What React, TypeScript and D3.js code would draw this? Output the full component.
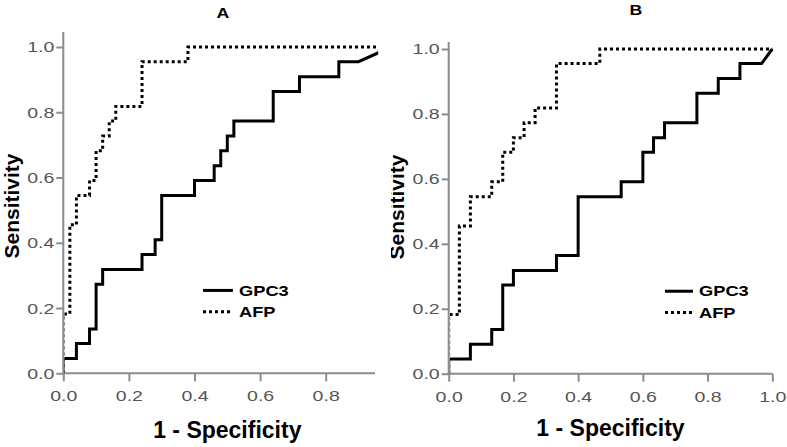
import { useEffect, useRef } from 'react'
import * as d3 from 'd3'

const W = 787, H = 447
const FONT = 'Arial, "Liberation Sans", sans-serif'

// ROC operating points (1 - specificity, sensitivity)
const A_GPC3_FPR = [0, 0, 0.04, 0.04, 0.08, 0.08, 0.10, 0.10, 0.12, 0.12, 0.24, 0.24, 0.28, 0.28, 0.30, 0.30, 0.40, 0.40, 0.46, 0.46, 0.48, 0.48, 0.50, 0.50, 0.52, 0.52, 0.64, 0.64, 0.72, 0.72, 0.84, 0.84, 0.90, 1.0]
const A_GPC3_TPR = [0, 0.045, 0.045, 0.091, 0.091, 0.136, 0.136, 0.273, 0.273, 0.318, 0.318, 0.364, 0.364, 0.409, 0.409, 0.545, 0.545, 0.591, 0.591, 0.636, 0.636, 0.682, 0.682, 0.727, 0.727, 0.773, 0.773, 0.864, 0.864, 0.909, 0.909, 0.955, 0.955, 1.0]
const A_AFP_FPR = [0, 0, 0.02, 0.02, 0.04, 0.04, 0.08, 0.08, 0.10, 0.10, 0.12, 0.12, 0.14, 0.14, 0.16, 0.16, 0.24, 0.24, 0.38, 0.38, 1.0]
const A_AFP_TPR = [0, 0.182, 0.182, 0.455, 0.455, 0.545, 0.545, 0.591, 0.591, 0.682, 0.682, 0.727, 0.727, 0.773, 0.773, 0.818, 0.818, 0.955, 0.955, 1.0, 1.0]

const B_GPC3_FPR = [0, 0, 0.067, 0.067, 0.133, 0.133, 0.167, 0.167, 0.2, 0.2, 0.333, 0.333, 0.4, 0.4, 0.533, 0.533, 0.6, 0.6, 0.633, 0.633, 0.667, 0.667, 0.767, 0.767, 0.833, 0.833, 0.9, 0.9, 0.967, 1.0]
const B_GPC3_TPR = [0, 0.045, 0.045, 0.091, 0.091, 0.136, 0.136, 0.273, 0.273, 0.318, 0.318, 0.364, 0.364, 0.545, 0.545, 0.591, 0.591, 0.682, 0.682, 0.727, 0.727, 0.773, 0.773, 0.864, 0.864, 0.909, 0.909, 0.955, 0.955, 1.0]
const B_AFP_FPR = [0, 0, 0.033, 0.033, 0.067, 0.067, 0.133, 0.133, 0.167, 0.167, 0.2, 0.2, 0.233, 0.233, 0.267, 0.267, 0.333, 0.333, 0.467, 0.467, 1.0]
const B_AFP_TPR = [0, 0.182, 0.182, 0.455, 0.455, 0.545, 0.545, 0.591, 0.591, 0.682, 0.682, 0.727, 0.727, 0.773, 0.773, 0.818, 0.818, 0.955, 0.955, 1.0, 1.0]

const Y_TICKS = [0, 0.2, 0.4, 0.6, 0.8, 1.0]
const A_X_TICKS = [0, 0.2, 0.4, 0.6, 0.8]
const B_X_TICKS = [0, 0.2, 0.4, 0.6, 0.8, 1.0]
const SERIES = ['GPC3', 'AFP']

const zip = (xs: number[], ys: number[]) => xs.map((x, i) => [x, ys[i]] as [number, number])

// layout of each panel (pixels)
const PANELS = [
  { id: 'A', gpc3: zip(A_GPC3_FPR, A_GPC3_TPR), afp: zip(A_AFP_FPR, A_AFP_TPR), xTicks: A_X_TICKS,
    x0: 63.3, x1: 391.3, xEnd: 375, y0: 373.3, y1: 47, yTop: 32, ylabClip: 0,
    titleX: 223, titleY: 18, ylabX: 19, ylabY: 206, xlabY: 438, legX: 203, legLen: 30 },
  { id: 'B', gpc3: zip(B_GPC3_FPR, B_GPC3_TPR), afp: zip(B_AFP_FPR, B_AFP_TPR), xTicks: B_X_TICKS,
    x0: 448.7, x1: 772.3, xEnd: 772.3, y0: 373.7, y1: 49, yTop: 42, ylabClip: 391,
    titleX: 636, titleY: 15, ylabX: 404, ylabY: 207, xlabY: 436, legX: 665, legLen: 28 },
]

// the source figure is stretched horizontally; widen small text to match
const STRETCH = 1.26
function widen(sel: d3.Selection<any, any, any, any>) {
  sel.each(function () {
    const t = this as SVGTextElement
    const w = t.getComputedTextLength()
    t.setAttribute('textLength', String(w * STRETCH))
    t.setAttribute('lengthAdjust', 'spacingAndGlyphs')
  })
}

export default function App() {
  const svgRef = useRef<SVGSVGElement>(null)

  useEffect(() => {
    document.body.style.margin = '0'
    const svg = d3.select(svgRef.current!)
    svg.selectAll('*').remove()
    svg.append('rect').attr('width', W).attr('height', H).attr('fill', '#fff')

    PANELS.forEach(p => {
      const x = d3.scaleLinear().domain([0, 1]).range([p.x0, p.x1])
      const y = d3.scaleLinear().domain([0, 1]).range([p.y0, p.y1])
      const g = svg.append('g')

      // ── title ──
      g.append('text').attr('x', p.titleX).attr('y', p.titleY)
        .attr('text-anchor', 'middle').attr('font-family', FONT)
        .attr('font-weight', 'bold').attr('font-size', 14).attr('fill', '#000')
        .text(p.id)
        .call(widen)

      // ── axes ──
      const AX = '#8c8c8c'
      const yAx = g.append('g').attr('transform', `translate(${p.x0},0)`)
        .call(d3.axisLeft(y).tickValues(Y_TICKS).tickSize(7).tickSizeOuter(0).tickPadding(2)
          .tickFormat(d => d3.format('.1f')(d as number)))
      const xAx = g.append('g').attr('transform', `translate(0,${p.y0})`)
        .call(d3.axisBottom(x).tickValues(p.xTicks).tickSize(8).tickSizeOuter(0).tickPadding(9)
          .tickFormat(d => d3.format('.1f')(d as number)))
      ;[yAx, xAx].forEach(ax => {
        ax.select('.domain').remove()
        ax.selectAll('.tick line').attr('stroke', AX).attr('stroke-width', 2)
        ax.selectAll('.tick text').attr('font-family', FONT).attr('font-size', 15.5).attr('fill', '#555')
          .call(widen)
      })
      g.append('line').attr('x1', p.x0).attr('x2', p.x0).attr('y1', p.yTop).attr('y2', p.y0 + 1)
        .attr('stroke', AX).attr('stroke-width', 2)
      g.append('line').attr('x1', p.x0 - 1).attr('x2', p.xEnd).attr('y1', p.y0).attr('y2', p.y0)
        .attr('stroke', AX).attr('stroke-width', 2)

      // ── axis titles ──
      const labClip = `ylab-${p.id}`
      svg.append('clipPath').attr('id', labClip).append('rect')
        .attr('x', p.ylabClip).attr('y', 0).attr('width', W).attr('height', H)
      g.append('g').attr('clip-path', `url(#${labClip})`)
        .append('text').attr('transform', `translate(${p.ylabX},${p.ylabY}) rotate(-90)`)
        .attr('text-anchor', 'middle').attr('font-family', FONT).attr('font-weight', 'bold')
        .attr('font-size', 21).attr('fill', '#000').text('Sensitivity')
      g.append('text').attr('x', x(0.5)).attr('y', p.xlabY)
        .attr('text-anchor', 'middle').attr('font-family', FONT).attr('font-weight', 'bold')
        .attr('font-size', 23).attr('fill', '#000').text('1 - Specificity')

      // ── curves ──
      const clipId = `clip-${p.id}`
      svg.append('clipPath').attr('id', clipId).append('rect')
        .attr('x', p.x0 + 1.2).attr('y', 0).attr('width', p.xEnd - p.x0 + 2).attr('height', p.y0 - 0.5)
      const line = d3.line<[number, number]>().x(d => x(d[0])).y(d => y(d[1]))
      const cg = g.append('g').attr('clip-path', `url(#${clipId})`)
      cg.append('path').attr('d', line(p.afp)).attr('fill', 'none').attr('stroke', '#000')
        .attr('stroke-width', 3).attr('stroke-dasharray', '3 3')
      cg.append('path').attr('d', line(p.gpc3)).attr('fill', 'none').attr('stroke', '#000')
        .attr('stroke-width', 3).attr('stroke-linejoin', 'miter')

      // ── legend ──
      SERIES.forEach((s, i) => {
        const ly = y(0.254) + i * 21.3
        g.append('line').attr('x1', p.legX).attr('x2', p.legX + p.legLen).attr('y1', ly).attr('y2', ly)
          .attr('stroke', '#000').attr('stroke-width', 3).attr('stroke-dasharray', i === 0 ? null : '3 3')
        g.append('text').attr('x', p.legX + p.legLen + 6).attr('y', ly).attr('dy', '0.36em')
          .attr('font-family', FONT).attr('font-weight', 'bold').attr('font-size', 14.5)
          .attr('fill', '#000').text(s)
          .call(widen)
      })
    })
  }, [])

  return <svg ref={svgRef} width={W} height={H} viewBox={`0 0 ${W} ${H}`} style={{ display: 'block' }} />
}
